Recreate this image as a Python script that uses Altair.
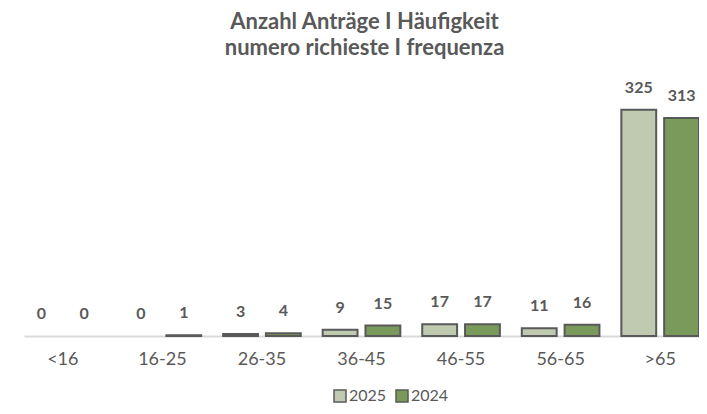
import altair as alt
import pandas as pd

categories = ["<16", "16-25", "26-35", "36-45", "46-55", "56-65", ">65"]
years = ["2025", "2024"]
values_2025 = [0, 0, 3, 9, 17, 11, 325]
values_2024 = [0, 1, 4, 15, 17, 16, 313]

rows = []
for c, a, b in zip(categories, values_2025, values_2024):
    rows.append({"cat": c, "year": "2025", "value": a})
    rows.append({"cat": c, "year": "2024", "value": b})
df = pd.DataFrame(rows)

FONT = "Lato"
GREY = "#595959"

x = alt.X("cat:N", sort=categories, title=None,
          scale=alt.Scale(paddingInner=0.22, paddingOuter=0, range=[12, 687], round=False),
          axis=alt.Axis(labelAngle=0, ticks=False, labelFontSize=18, labelColor=GREY,
                        labelFont=FONT, labelPadding=14, domainColor="#d9d9d9",
                        domainWidth=2, grid=False))
xo = alt.XOffset("year:N", sort=years, scale=alt.Scale(paddingInner=0.186, paddingOuter=0))
y = alt.Y("value:Q", scale=alt.Scale(domain=[0, 382], nice=False), axis=None)

base = alt.Chart(df)

bars = base.mark_bar(stroke=GREY, strokeWidth=2).encode(
    x=x, xOffset=xo, y=y,
    color=alt.Color("year:N", sort=years,
                    scale=alt.Scale(domain=years, range=["#bfcab0", "#7a9a5c"]),
                    legend=alt.Legend(title=None, orient="none", direction="horizontal",
                                      legendX=320, legendY=318, symbolType="square",
                                      symbolSize=144, symbolStrokeColor=GREY,
                                      symbolStrokeWidth=1.5, labelFontSize=16,
                                      labelColor=GREY, labelFont=FONT, columnPadding=6,
                                      labelOffset=1)),
    strokeOpacity=alt.condition(alt.datum.value > 0, alt.value(1), alt.value(0)),
)

labels = base.mark_text(font=FONT, fontSize=16, fontWeight="bold", color=GREY,
                        baseline="middle", dy=-22).encode(
    x=x, xOffset=xo, y=y, text="value:Q")

chart = (bars + labels).properties(
    width=687, height=266,
    title=alt.Title(["Anzahl Anträge I Häufigkeit", "numero richieste I frequenza"],
                    font=FONT, fontSize=22, fontWeight="bold", color=GREY,
                    anchor="middle", offset=10, lineHeight=26, dx=9),
    padding={"left": 4, "top": 62, "right": 0, "bottom": 70},
    autosize=alt.AutoSizeParams(type="none"),
).configure_view(stroke=None)

chart.save("out.html", embed_options={"renderer": "svg", "actions": False})
